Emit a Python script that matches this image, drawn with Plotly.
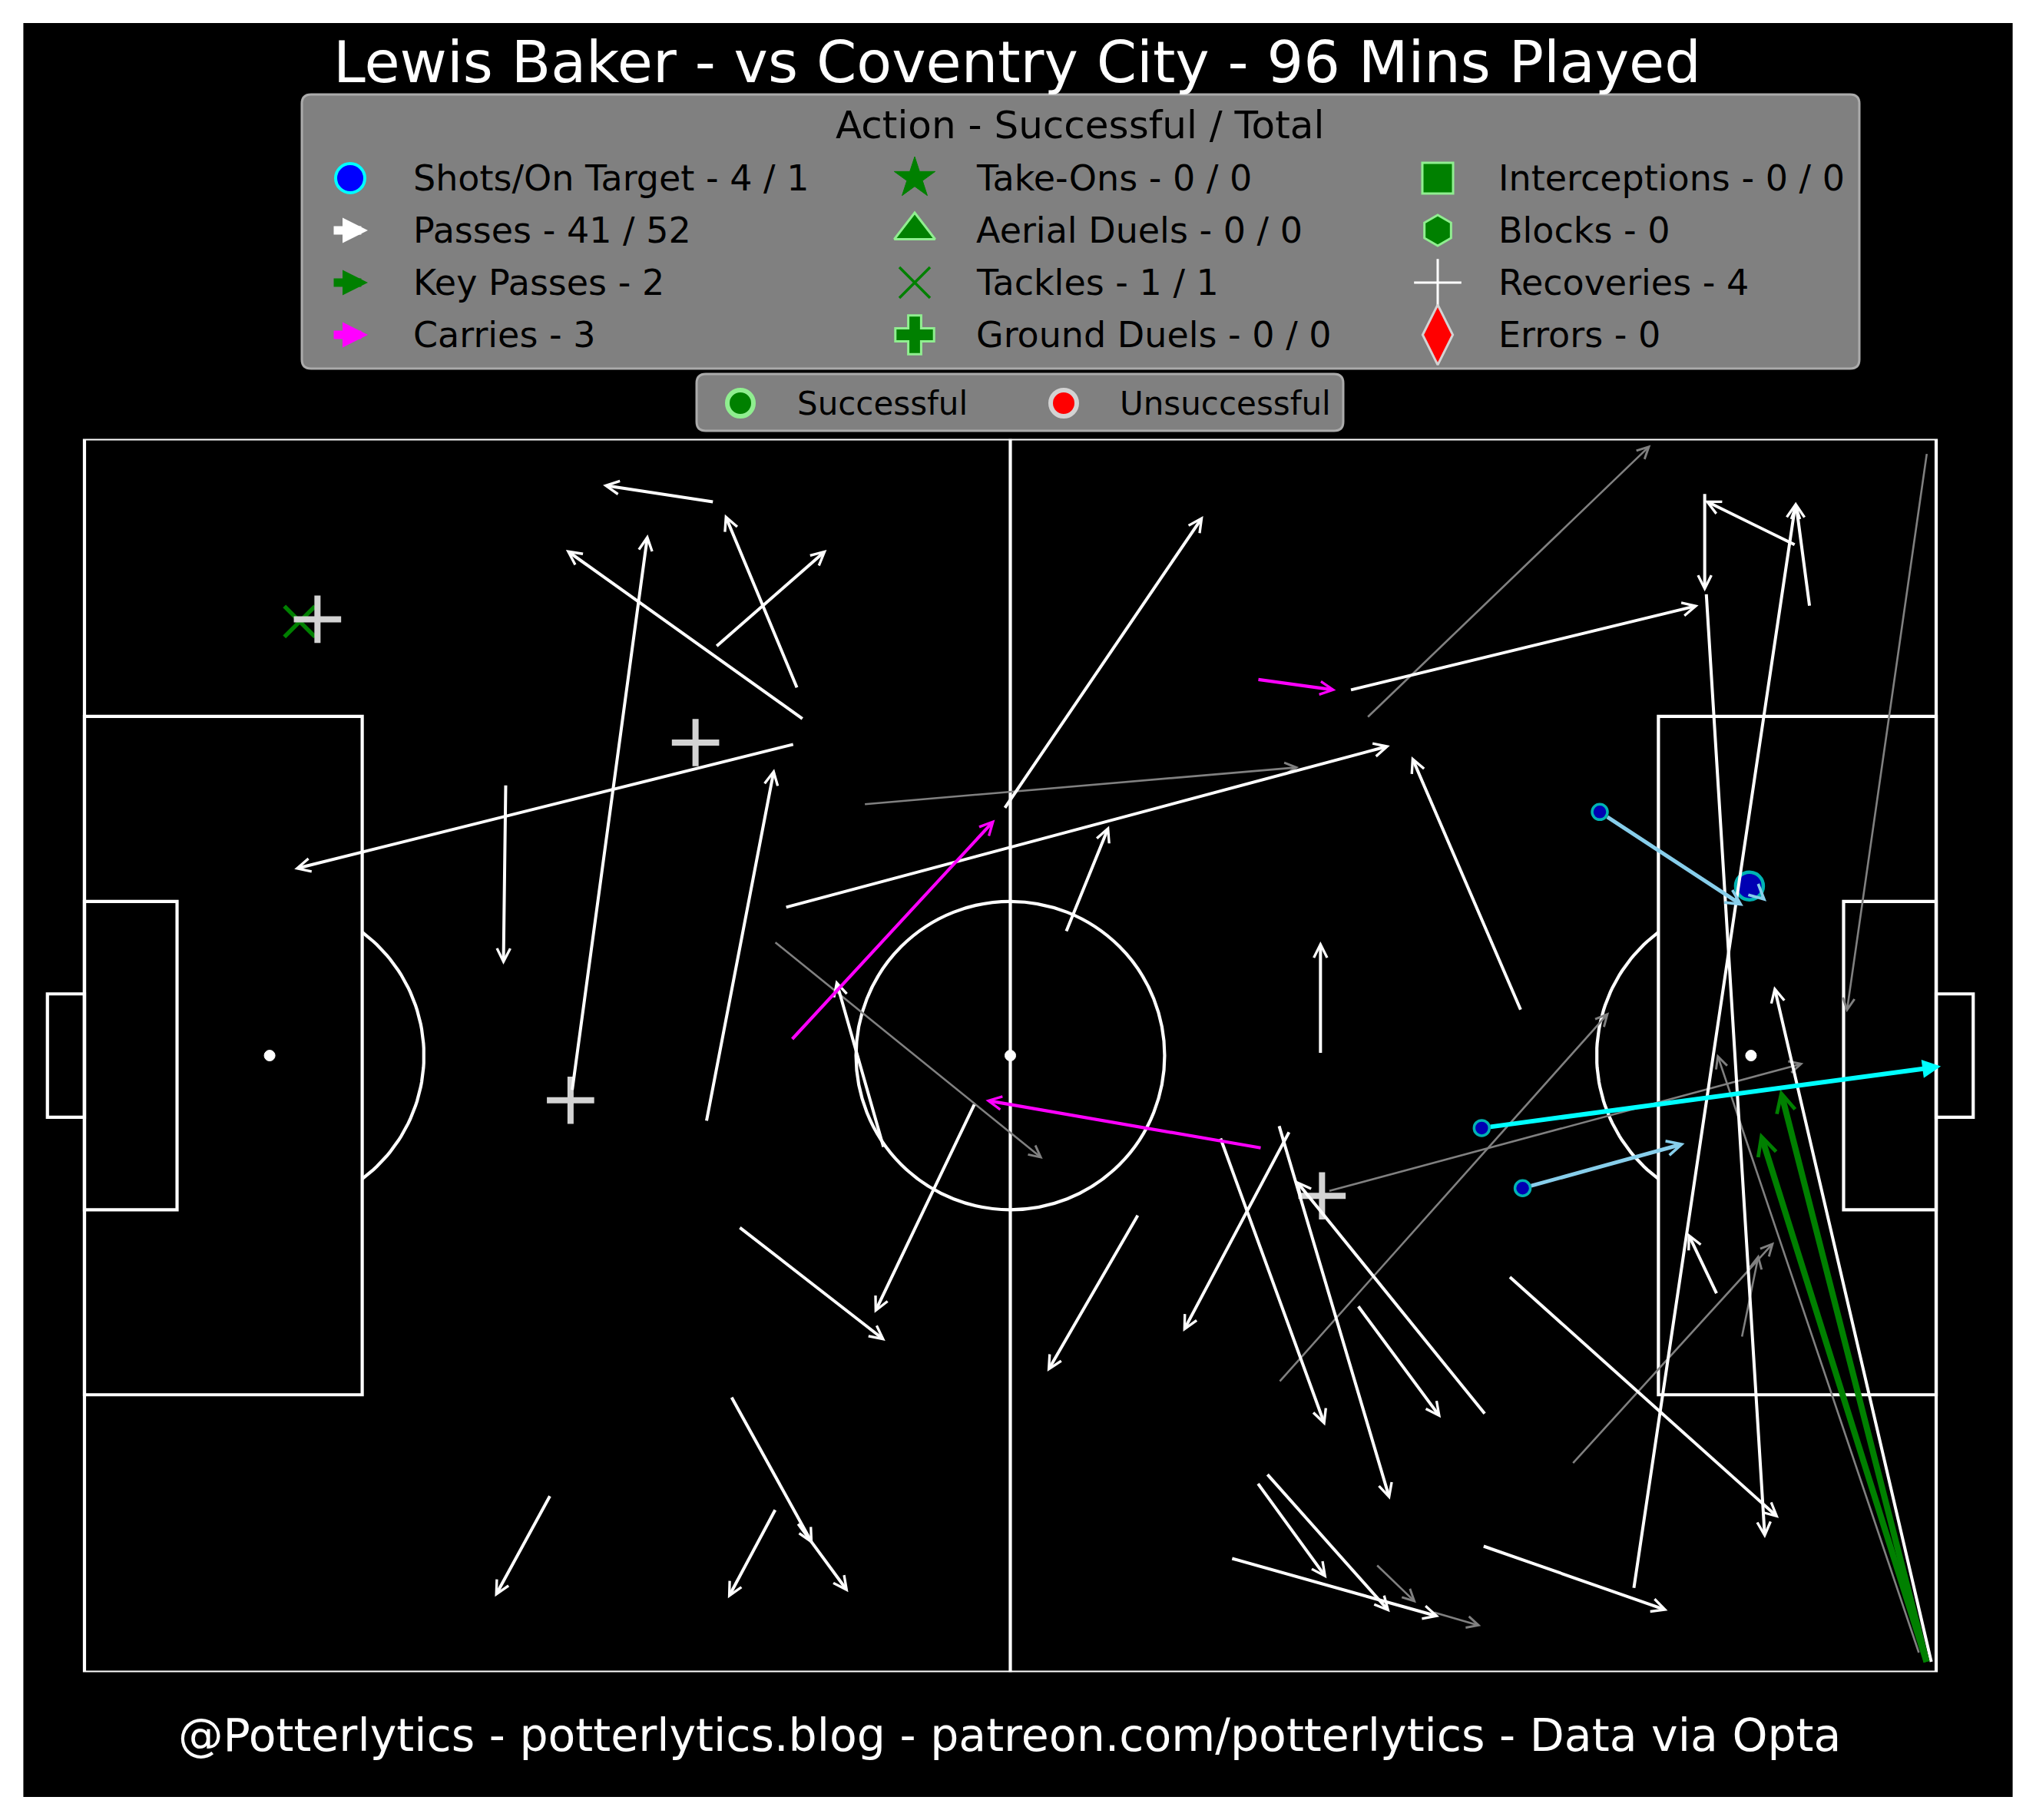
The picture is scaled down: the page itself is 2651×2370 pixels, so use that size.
import numpy as np
import plotly.graph_objects as go

W, H = 2651, 2370
OFF = 8                      # page body margin of the html page
FW, FH = W - OFF, H - OFF    # figure size so the page fits the window

title = "Lewis Baker - vs Coventry City - 96 Mins Played"
footer = "@Potterlytics - potterlytics.blog - patreon.com/potterlytics - Data via Opta"

# successful passes (120 x 80 pitch, y runs top -> bottom)
pass_x = [40.8, 31.6, 46.6, 46.0, 27.3, 46.2, 40.9, 59.6, 45.4, 63.6, 40.3, 51.8, 57.7,
          42.4, 41.9, 44.8, 46.2, 30.2, 80.1, 82.0, 93.1, 105.0, 105.1, 110.9, 111.8,
          100.4, 119.7, 105.8, 92.3, 90.6, 73.6, 77.4, 78.1, 68.3, 90.8, 82.5, 76.6,
          76.0, 74.3]
pass_y = [4.1, 42.3, 18.2, 19.8, 22.4, 16.2, 13.5, 24.0, 30.4, 32.0, 44.3, 46.0, 43.1,
          51.1, 62.1, 69.4, 70.3, 68.5, 39.9, 16.3, 37.1, 3.5, 10.0, 6.9, 10.9,
          74.6, 79.4, 55.5, 54.3, 71.8, 45.3, 44.5, 44.9, 50.3, 63.3, 56.2, 67.1,
          67.7, 72.6]
pass_end_x = [33.6, 36.5, 31.2, 13.6, 27.15, 41.5, 48.1, 72.5, 84.6, 66.4, 44.7, 48.7, 51.2,
              51.9, 47.2, 41.7, 49.5, 26.6, 80.1, 104.6, 86.0, 105.0, 108.9, 105.0, 110.9,
              110.9, 109.5, 103.9, 109.8, 102.6, 80.4, 84.6, 71.2, 62.4, 78.5, 87.9, 84.6,
              80.5, 87.8]
pass_end_y = [3.0, 6.2, 7.2, 27.9, 34.1, 4.9, 7.2, 5.0, 19.9, 25.1, 21.4, 35.1, 56.7,
              58.5, 71.7, 75.2, 74.8, 75.1, 32.6, 10.8, 20.6, 9.9, 71.3, 4.0, 4.1,
              4.1, 35.5, 51.5, 70.0, 76.0, 64.0, 68.8, 57.9, 60.5, 48.1, 63.5, 76.1,
              73.9, 76.4]

# unsuccessful passes
miss_x = [50.5, 44.7, 83.1, 119.4, 118.9, 80.6, 77.4, 96.4, 107.4, 83.7, 87.4]
miss_y = [23.7, 32.6, 18.1, 0.9, 78.8, 48.8, 61.2, 66.5, 58.3, 73.0, 76.1]
miss_end_x = [78.7, 62.1, 101.5, 114.2, 105.8, 111.4, 98.8, 109.5, 108.5, 86.3, 90.5]
miss_end_y = [21.3, 46.7, 0.4, 37.2, 39.9, 40.5, 37.2, 52.1, 52.9, 75.5, 77.0]

# key passes
key_x = [119.4, 119.4]
key_y = [79.4, 79.4]
key_end_x = [109.9, 108.6]
key_end_y = [42.2, 45.0]

# carries
carry_x = [45.8, 76.0, 76.3]
carry_y = [39.0, 15.6, 46.0]
carry_end_x = [59.0, 81.1, 58.4]
carry_end_y = [24.7, 16.3, 42.9]

# shots
shot_x = [98.2, 107.9, 90.55, 93.2]
shot_y = [24.2, 29.0, 44.7, 48.6]
shot_end_x = [107.5, 109.0, 120.3, 103.7]
shot_end_y = [30.3, 30.0, 40.7, 45.7]
shot_on_target = [False, False, True, False]
shot_big = [False, True, False, False]

# recoveries and tackles
recov_x = [15.1, 39.6, 31.5, 80.2]
recov_y = [11.7, 19.7, 42.9, 49.1]
tackle_x = [13.95]
tackle_y = [11.85]

legend_labels = [
    ["Shots/On Target - 4 / 1", "Passes - 41 / 52", "Key Passes - 2", "Carries - 3"],
    ["Take-Ons - 0 / 0", "Aerial Duels - 0 / 0", "Tackles - 1 / 1", "Ground Duels - 0 / 0"],
    ["Interceptions - 0 / 0", "Blocks - 0", "Recoveries - 4", "Errors - 0"],
]

FONT = "DejaVu Sans"
GREEN = "#008000"
LGREEN = "#90ee90"
LGRAY = "#d3d3d3"


def px(x):
    return (x - OFF) / FW


def py(y):
    return 1 - (y - OFF) / FH


fig = go.Figure()

# ---- pitch ----
line = dict(color="white", width=4.2)
pitch_shapes = [
    dict(type="rect", x0=0, y0=0, x1=120, y1=80),
    dict(type="line", x0=60, y0=0, x1=60, y1=80),
    dict(type="circle", x0=50, y0=30, x1=70, y1=50),
    dict(type="rect", x0=0, y0=18, x1=18, y1=62),
    dict(type="rect", x0=102, y0=18, x1=120, y1=62),
    dict(type="rect", x0=0, y0=30, x1=6, y1=50),
    dict(type="rect", x0=114, y0=30, x1=120, y1=50),
    dict(type="rect", x0=-2.4, y0=36, x1=0, y1=44),
    dict(type="rect", x0=120, y0=36, x1=122.4, y1=44),
]
for s in pitch_shapes:
    fig.add_shape(**s, xref="x", yref="y", line=line, layer="below")
for cx in [12, 60, 108]:
    fig.add_shape(type="circle", x0=cx - 0.35, x1=cx + 0.35, y0=39.65, y1=40.35,
                  xref="x", yref="y", fillcolor="white", line=dict(color="white", width=1),
                  layer="below")

ang = np.radians(np.linspace(-53.13, 53.13, 60))
fig.add_trace(go.Scatter(x=12 + 10 * np.cos(ang), y=40 + 10 * np.sin(ang), mode="lines",
                         line=dict(color="white", width=4.2), hoverinfo="skip", showlegend=False))
fig.add_trace(go.Scatter(x=108 - 10 * np.cos(ang), y=40 + 10 * np.sin(ang), mode="lines",
                         line=dict(color="white", width=4.2), hoverinfo="skip", showlegend=False))

# ---- events ----
anns = []


def arrow(x0, y0, x1, y1, color, width, head, size, start=0):
    return dict(x=x1, y=y1, ax=x0, ay=y0, xref="x", yref="y", axref="x", ayref="y",
                text="", showarrow=True, arrowhead=head, arrowsize=size, arrowwidth=width,
                arrowcolor=color, standoff=0, startstandoff=start)


for i in range(len(miss_x)):
    anns.append(arrow(miss_x[i], miss_y[i], miss_end_x[i], miss_end_y[i], "#808080", 2.6, 5, 1.15))
for i in range(len(pass_x)):
    anns.append(arrow(pass_x[i], pass_y[i], pass_end_x[i], pass_end_y[i], "white", 4, 5, 0.85))
for i in range(len(carry_x)):
    anns.append(arrow(carry_x[i], carry_y[i], carry_end_x[i], carry_end_y[i], "#ff00ff", 4.2, 5, 0.8))
for i in range(len(key_x)):
    anns.append(arrow(key_x[i], key_y[i], key_end_x[i], key_end_y[i], GREEN, 8, 5, 0.6))
for i in range(len(shot_x)):
    if shot_on_target[i]:
        anns.append(arrow(shot_x[i], shot_y[i], shot_end_x[i], shot_end_y[i], "#00ffff", 6, 2, 0.8, 10))
    else:
        anns.append(arrow(shot_x[i], shot_y[i], shot_end_x[i], shot_end_y[i], "#87ceeb", 5, 5, 0.75,
                          19 if shot_big[i] else 10))

fig.add_trace(go.Scatter(x=tackle_x, y=tackle_y, mode="markers", hoverinfo="skip", showlegend=False,
                         marker=dict(symbol="x-thin", size=40, line=dict(color=GREEN, width=5.5))))
fig.add_trace(go.Scatter(x=recov_x, y=recov_y, mode="markers", hoverinfo="skip", showlegend=False,
                         marker=dict(symbol="cross-thin", size=44, line=dict(color=LGRAY, width=8))))
fig.add_trace(go.Scatter(x=shot_x, y=shot_y, mode="markers", hoverinfo="skip", showlegend=False,
                         marker=dict(symbol="circle", color="#0000ff",
                                     size=[36 if b else 20 for b in shot_big],
                                     line=dict(color="#00ffff", width=[4.5 if b else 3.5 for b in shot_big]))))

# ---- frame / legend boxes ----
fig.add_shape(type="rect", xref="paper", yref="paper", x0=px(30.4), x1=px(2620.6),
              y0=py(2340), y1=py(30), fillcolor="black", line=dict(width=0), layer="below")


def rounded(x0, y0, x1, y1, r):
    return (f"M{x0 + r},{y0} L{x1 - r},{y0} Q{x1},{y0} {x1},{y0 + r} L{x1},{y1 - r} "
            f"Q{x1},{y1} {x1 - r},{y1} L{x0 + r},{y1} Q{x0},{y1} {x0},{y1 - r} "
            f"L{x0},{y0 + r} Q{x0},{y0} {x0 + r},{y0} Z")


for box in [(393, 123, 2421, 480), (907, 487, 1749, 561)]:
    fig.add_shape(type="path", path=rounded(*box, 12), xref="x2", yref="y2",
                  fillcolor="#808080", line=dict(color="#ababab", width=3), layer="below")

row_y = [232, 300, 368, 436]
col_mx = [456, 1191, 1872]
col_tx = [536, 1269, 1949]

for c in range(3):
    for r in range(4):
        anns.append(dict(x=px(col_tx[c]), y=py(row_y[r]), xref="paper", yref="paper",
                         text=legend_labels[c][r], showarrow=False, xanchor="left", yanchor="middle",
                         font=dict(family=FONT, size=46, color="black")))
anns.append(dict(x=px(1406), y=py(163), xref="paper", yref="paper", text="Action - Successful / Total",
                 showarrow=False, xanchor="center", yanchor="middle",
                 font=dict(family=FONT, size=50, color="black")))

# legend arrows for passes, key passes, carries
for r, col in zip([1, 2, 3], ["white", GREEN, "#ff00ff"]):
    anns.append(dict(x=px(col_mx[0] + 23), y=py(row_y[r]), xref="paper", yref="paper",
                     ax=-46, ay=0, axref="pixel", ayref="pixel", text="", showarrow=True,
                     arrowhead=2, arrowsize=0.6, arrowwidth=11, arrowcolor=col, standoff=0))

leg_sym = [
    (col_mx[0], row_y[0], "circle", "#0000ff", "#00ffff", 4, 38),
    (col_mx[1], row_y[0], "star", GREEN, GREEN, 1, 40),
    (col_mx[1], row_y[1], "triangle-up", GREEN, LGREEN, 3, 46),
    (col_mx[1], row_y[2], "x-thin", GREEN, GREEN, 3.5, 40),
    (col_mx[1], row_y[3], "cross", GREEN, LGREEN, 3, 42),
    (col_mx[2], row_y[0], "square", GREEN, LGREEN, 3, 40),
    (col_mx[2], row_y[1], "hexagon", GREEN, LGREEN, 3, 40),
    (col_mx[2], row_y[2], "cross-thin", "white", "white", 3, 44),
    (col_mx[2], row_y[3], "diamond-tall", "#ff0000", LGRAY, 3, 56),
    (964, 525, "circle", GREEN, LGREEN, 6, 34),
    (1385, 525, "circle", "#ff0000", LGRAY, 6, 34),
]
for mx, my, sym, fc, lc, lw, sz in leg_sym:
    fig.add_trace(go.Scatter(x=[mx], y=[my], xaxis="x2", yaxis="y2", mode="markers",
                             hoverinfo="skip", showlegend=False, cliponaxis=False,
                             marker=dict(symbol=sym, color=fc, size=sz, line=dict(color=lc, width=lw))))

for tx, txt in [(1036, "Successful"), (1456, "Unsuccessful")]:
    anns.append(dict(x=px(tx), y=py(525), xref="paper", yref="paper", text=txt, showarrow=False,
                     xanchor="left", yanchor="middle", font=dict(family=FONT, size=42, color="black")))

anns.append(dict(x=px(1324), y=py(81), xref="paper", yref="paper", text=title, showarrow=False,
                 xanchor="center", yanchor="middle", font=dict(family=FONT, size=75, color="white")))
anns.append(dict(x=px(1314), y=py(2260), xref="paper", yref="paper", text=footer, showarrow=False,
                 xanchor="center", yanchor="middle", font=dict(family=FONT, size=58.5, color="white")))

fig.update_layout(
    width=FW, height=FH,
    margin=dict(l=0, r=0, t=0, b=0),
    paper_bgcolor="white",
    plot_bgcolor="rgba(0,0,0,0)",
    showlegend=False,
    annotations=anns,
    xaxis=dict(range=[-3, 123], domain=[px(49.7), px(2581.3)], visible=False, fixedrange=True),
    yaxis=dict(range=[80, 0], domain=[py(2177.6), py(571.5)], visible=False, fixedrange=True),
    xaxis2=dict(range=[OFF, W], domain=[0, 1], visible=False, anchor="y2"),
    yaxis2=dict(range=[H, OFF], domain=[0, 1], visible=False, anchor="x2"),
)

fig.write_html("out.html")
